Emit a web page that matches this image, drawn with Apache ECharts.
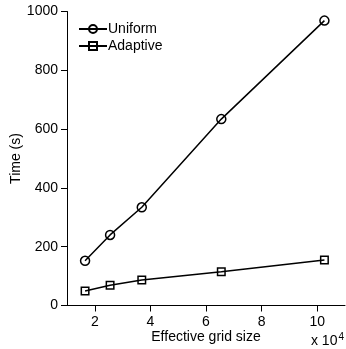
<!DOCTYPE html>
<html>
<head>
<meta charset="utf-8">
<script src="https://cdn.jsdelivr.net/npm/echarts@6/dist/echarts.min.js"></script>
<style>html,body{margin:0;padding:0;background:#fff;}#c{width:346px;height:349px;}</style>
</head>
<body>
<div id="c"></div>
<script>
const gridSizes = [1.65, 2.55, 3.69, 6.55, 10.26];
const uniformTime = [152, 240, 334, 634, 969];
const adaptiveTime = [49, 69, 87, 115, 155];
const xTicks = [2, 4, 6, 8, 10];
const seriesNames = ['Uniform', 'Adaptive'];

const FONT = 'Liberation Sans, Arial, Helvetica, sans-serif';
const chart = echarts.init(document.getElementById('c'));
function pairs(xs, ys) { return xs.map((x, i) => [x, ys[i]]); }
const common = {
  type: 'line',
  color: '#000',
  lineStyle: { color: '#000', width: 1.5 },
  itemStyle: { color: 'rgba(0,0,0,0)', borderColor: '#000', borderWidth: 1.5 },
  emphasis: { disabled: true },
  animation: false
};
chart.setOption({
  backgroundColor: '#fff',
  animation: false,
  textStyle: { fontFamily: FONT },
  grid: { left: 67, right: 1, top: 11.5, bottom: 43.5, containLabel: false, outerBoundsMode: 'none' },
  legend: {
    left: 73, top: 17, orient: 'vertical',
    itemWidth: 28, itemHeight: 10, itemGap: 3,
    textStyle: { fontFamily: FONT, fontSize: 14, color: '#000', padding: [0, 0, 0, -4] },
    data: seriesNames
  },
  xAxis: {
    type: 'value', min: 1, max: 11,
    name: 'Effective grid size', nameLocation: 'middle', nameGap: 25, nameMoveOverlap: false,
    nameTextStyle: { fontFamily: FONT, fontSize: 14, color: '#000' },
    axisLine: { onZero: false, lineStyle: { color: '#000', width: 1 } },
    axisTick: { show: true, length: 6, inside: false, customValues: xTicks, lineStyle: { color: '#000' } },
    axisLabel: { customValues: xTicks, fontFamily: FONT, fontSize: 14, color: '#000', margin: 10 },
    splitLine: { show: false }
  },
  yAxis: {
    type: 'value', min: 0, max: 1000, interval: 200,
    name: 'Time (s)', nameLocation: 'middle', nameGap: 44, nameMoveOverlap: false,
    nameTextStyle: { fontFamily: FONT, fontSize: 14, color: '#000' },
    axisLine: { show: true, lineStyle: { color: '#000', width: 1 } },
    axisTick: { show: true, length: 6, inside: false, lineStyle: { color: '#000' } },
    axisLabel: { fontFamily: FONT, fontSize: 14, color: '#000', margin: 9, formatter: v => String(v) },
    splitLine: { show: false }
  },
  graphic: [{
    type: 'text', right: 2, bottom: 1,
    style: {
      text: 'x 10{s|4}', fontFamily: FONT, fontSize: 14, fill: '#000',
      rich: { s: { fontSize: 10, verticalAlign: 'top', padding: [0, 0, 8, 1], fontFamily: FONT } }
    }
  }],
  series: [
    Object.assign({}, common, { name: seriesNames[0], symbol: 'circle', symbolSize: 9, data: pairs(gridSizes, uniformTime) }),
    Object.assign({}, common, { name: seriesNames[1], symbol: 'rect', symbolSize: 7.5, data: pairs(gridSizes, adaptiveTime) })
  ]
});
</script>
</body>
</html>
